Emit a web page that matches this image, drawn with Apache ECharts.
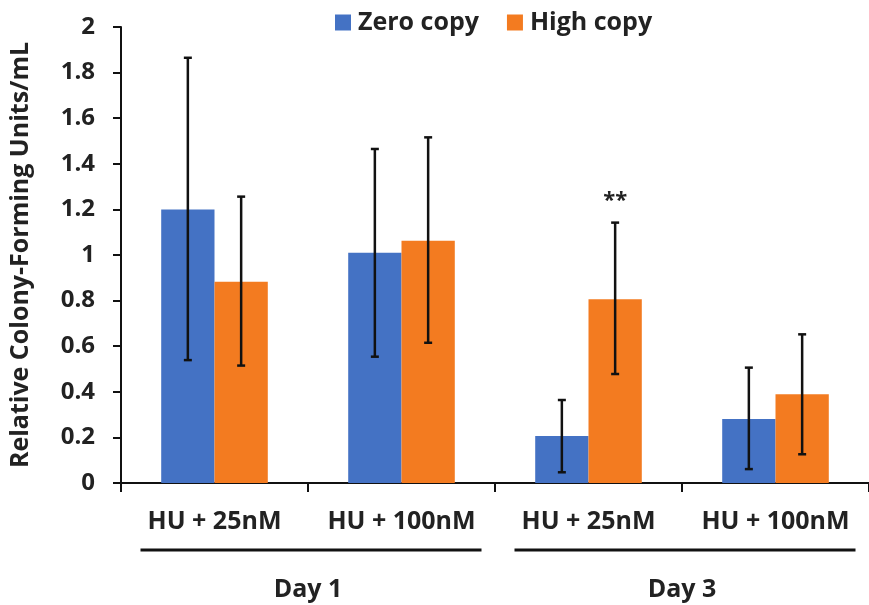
<!DOCTYPE html>
<html>
<head>
<meta charset="utf-8">
<script src="https://cdn.jsdelivr.net/npm/echarts@6/dist/echarts.min.js"></script>
<style>
  html, body { margin: 0; padding: 0; background: #fff; }
  #main { width: 869px; height: 605px; }
</style>
</head>
<body>
<div id="main"></div>
<script>
// 数据
var categories = ['HU + 25nM', 'HU + 100nM', 'HU + 25nM', 'HU + 100nM'];
var zeroCopy = [1.20, 1.01, 0.206, 0.281];
var zeroLow = [0.539, 0.554, 0.047, 0.061];
var zeroHigh = [1.865, 1.465, 0.364, 0.506];
var highCopy = [0.883, 1.063, 0.806, 0.389];
var highLow = [0.515, 0.615, 0.478, 0.126];
var highHigh = [1.256, 1.516, 1.142, 0.652];
var highSig = ['', '', '**', ''];
var dayNames = ['Day 1', 'Day 3'];
var dayFrom = [0, 2];
var dayTo = [1, 3];
var yTicks = [0, 0.2, 0.4, 0.6, 0.8, 1, 1.2, 1.4, 1.6, 1.8, 2];

var font = 'Open Sans';
var gapPct = 0.43;

var myChart = echarts.init(document.getElementById('main'));

function errorSeries(name, low, high, side, sig) {
    var data = low.map(function (v, i) { return [i, v, high[i]]; });
    return {
        name: name,
        type: 'custom',
        z: 5,
        silent: true,
        renderItem: function (params, api) {
            var idx = api.value(0);
            var band = api.size([1, 0])[0];
            var barW = band * (1 - gapPct) / 2;
            var lo = api.coord([idx, api.value(1)]);
            var hi = api.coord([idx, api.value(2)]);
            var x = lo[0] + side * barW / 2;
            var cap = 4;
            var style = { stroke: '#111', lineWidth: 2.5 };
            var children = [
                { type: 'line', shape: { x1: x, y1: hi[1], x2: x, y2: lo[1] }, style: style },
                { type: 'line', shape: { x1: x - cap, y1: hi[1], x2: x + cap, y2: hi[1] }, style: style },
                { type: 'line', shape: { x1: x - cap, y1: lo[1], x2: x + cap, y2: lo[1] }, style: style }
            ];
            if (sig && sig[idx]) {
                children.push({
                    type: 'text',
                    style: {
                        text: sig[idx], x: x, y: hi[1] - 22,
                        align: 'center', verticalAlign: 'middle',
                        font: 'bold 22px "' + font + '"', fill: '#222'
                    }
                });
            }
            return { type: 'group', children: children };
        },
        data: data
    };
}

var option = {
    backgroundColor: '#fff',
    animation: false,
    textStyle: { fontFamily: font },
    legend: {
        data: ['Zero copy', 'High copy'],
        left: 330,
        top: 5,
        itemWidth: 16,
        itemHeight: 16,
        itemGap: 28,
        icon: 'rect',
        textStyle: { fontSize: 25, fontWeight: 'bold', color: '#222', padding: [0, 0, 0, 2] }
    },
    grid: { left: 120, right: -7, top: 27, bottom: 122 },
    xAxis: {
        type: 'category',
        data: categories,
        axisLine: { lineStyle: { color: '#111', width: 2 } },
        axisTick: { show: true, length: 9, lineStyle: { color: '#111', width: 2 } },
        axisLabel: { margin: 26, fontSize: 25, fontWeight: 'bold', color: '#222', interval: 0 }
    },
    yAxis: {
        type: 'value',
        min: 0,
        max: 2,
        interval: 0.2,
        name: 'Relative Colony-Forming Units/mL',
        nameLocation: 'middle',
        nameGap: 88,
        nameTextStyle: { fontSize: 25, fontWeight: 'bold', color: '#222' },
        splitLine: { show: false },
        axisLine: { show: true, lineStyle: { color: '#111', width: 2 } },
        axisTick: { show: true, length: 8, lineStyle: { color: '#111', width: 2 } },
        axisLabel: {
            margin: 26, fontSize: 24, fontWeight: 'bold', color: '#222',
            formatter: function (v) {
                for (var i = 0; i < yTicks.length; i++) {
                    if (Math.abs(yTicks[i] - v) < 1e-6) return String(yTicks[i]);
                }
                return '';
            }
        }
    },
    series: [{
        name: 'Zero copy',
        type: 'bar',
        data: zeroCopy,
        barGap: 0,
        barCategoryGap: (gapPct * 100) + '%',
        itemStyle: { color: '#4472c4' }
    }, {
        name: 'High copy',
        type: 'bar',
        data: highCopy,
        itemStyle: { color: '#f37b20' }
    },
        errorSeries('Zero copy err', zeroLow, zeroHigh, -1, null),
        errorSeries('High copy err', highLow, highHigh, 1, highSig)
    ]
};
myChart.setOption(option);

// 天数分组线和标签
var groupGraphics = [];
for (var g = 0; g < dayNames.length; g++) {
    var x0 = myChart.convertToPixel({ xAxisIndex: 0 }, dayFrom[g]);
    var x1 = myChart.convertToPixel({ xAxisIndex: 0 }, dayTo[g]);
    groupGraphics.push({
        type: 'line',
        shape: { x1: x0 - 74, y1: 550, x2: x1 + 80, y2: 550 },
        style: { stroke: '#111', lineWidth: 3 }
    });
    groupGraphics.push({
        type: 'text',
        style: {
            text: dayNames[g], x: (x0 + x1) / 2, y: 590,
            align: 'center', verticalAlign: 'middle',
            font: 'bold 25px "' + font + '"', fill: '#222'
        }
    });
}
myChart.setOption({ graphic: groupGraphics });
</script>
</body>
</html>
